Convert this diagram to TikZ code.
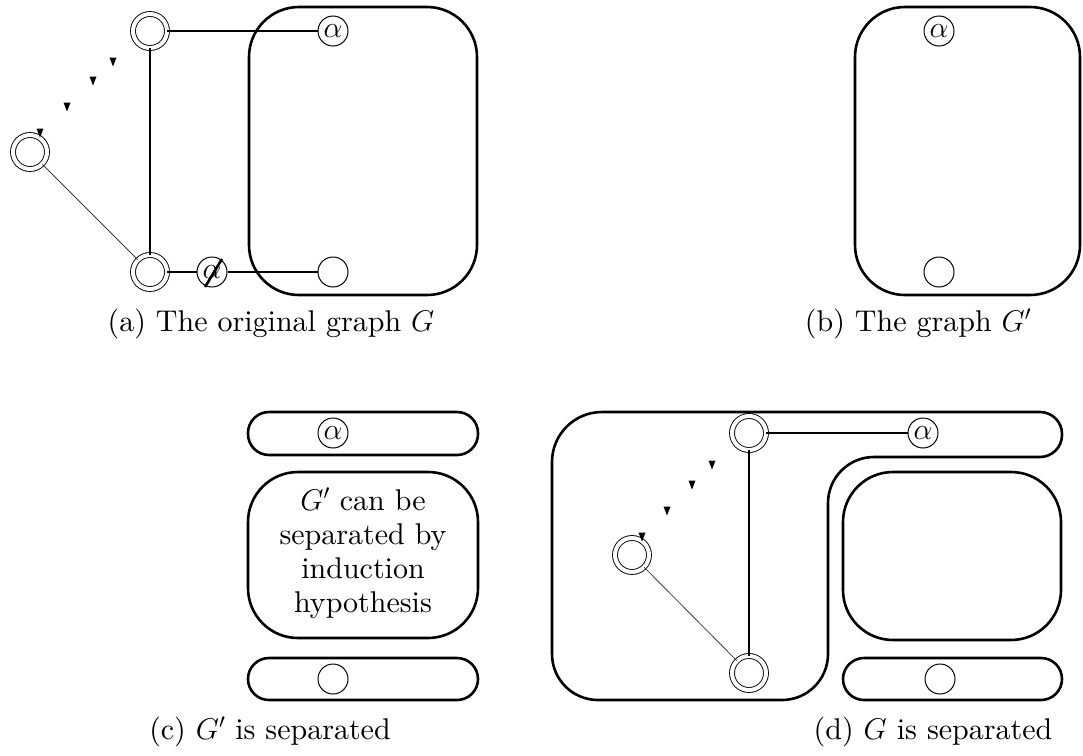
\RequirePackage{fix-cm}
\documentclass[tikz,border=0pt]{standalone}
\usepackage{fontspec}
\setmainfont{lmroman10-regular.otf}[ItalicFont=lmroman10-italic.otf]
\usepackage{tikz}
\usetikzlibrary{positioning}

\begin{document}
\begin{tikzpicture}[
    x=1pt, y=-1pt,
    region/.style={line width=2.6pt, rounded corners=50pt},
    strip/.style={line width=2.6pt, rounded corners=21pt},
    link/.style={line width=1.8pt},
    vert/.style={draw, circle, line width=1pt, minimum size=30pt, inner sep=0pt, fill=white},
    dvert/.style={draw, circle, line width=0.9pt, double, double distance=4pt, minimum size=34pt, inner sep=0pt},
    sublabel/.style={anchor=base},
    every node/.style={font=\fontsize{30}{34}\selectfont}
]
    \useasboundingbox (0,0) rectangle (1083,755);

    % (a) the original graph
    \draw[region] (249,7) rectangle (477,295);
    \node[dvert] (ta) at (150,31) {};
    \node[dvert] (la) at (30,152) {};
    \node[dvert] (ba) at (150,272) {};
    \node[vert] (aa) at (333,31) {$\alpha$};
    \node[vert] (xa) at (212,272) {$\alpha$};
    \node[vert] (ea) at (333,272) {};
    \draw[link] (ta) -- (aa);
    \draw[link] (ta) -- (ba);
    \draw[line width=2.6pt] (ba) -- (xa) -- (ea);
    \draw[line width=0.8pt, black!75] (la) -- (ba);
    \draw[line width=2.6pt] ([shift={(-7,15)}]xa.center) -- ([shift={(10,-13)}]xa.center);
    \foreach \dx/\dy in {83/-90, 63/-71, 37/-45, 10/-19}
        \fill ([shift={(\dx,\dy)}]la.center) ++(-3.5,-4.5) -- ++(7,0) -- ++(-3.5,9) -- cycle;
    \node[sublabel] (capa) at (271,331) {(a) The original graph $G$};

    % (b) the graph G'
    \draw[region] (855,7) rectangle (1080,295);
    \node[vert] (ab) at (939,31) {$\alpha$};
    \node[vert] (eb) at (939,272) {};
    \node[sublabel] (capb) at (918,331) {(b) The graph $G'$};

    % (c) G' is separated
    \draw[strip] (248,412) rectangle (478,455);
    \node[vert] (ac) at (333,433) {$\alpha$};
    \draw[region] (248,472) rectangle (478,638);
    \node[align=center] (hyp) at (363,553) {$G'$ can be\\separated by\\induction\\hypothesis};
    \draw[strip] (248,658) rectangle (478,700);
    \node[vert] (ec) at (333,679) {};
    \node[sublabel] (capc) at (270,739) {(c) $G'$ is separated};

    % (d) G is separated
    \draw[line width=2.6pt] (552,560) [rounded corners=50pt] -- (552,412) -- (700,412)
        [rounded corners=22pt] -- (1062,412) -- (1062,457) -- (900,457)
        [rounded corners=46pt] -- (828,457) -- (828,700) -- (552,700) -- cycle;
    \draw[region] (843,472) rectangle (1061,640);
    \draw[strip] (843,658) rectangle (1062,700);
    \node[dvert] (td) at (749,433) {};
    \node[dvert] (ld) at (632,555) {};
    \node[dvert] (bd) at (749,673) {};
    \node[vert] (ad) at (923,433) {$\alpha$};
    \node[vert] (ed) at (940,679) {};
    \draw[link] (td) -- (ad);
    \draw[line width=1.4pt] (td) -- (bd);
    \draw[line width=0.8pt, black!75] (ld) -- (bd);
    \foreach \dx/\dy in {80/-90, 60/-70, 35/-44, 10/-18}
        \fill ([shift={(\dx,\dy)}]ld.center) ++(-3.5,-4.5) -- ++(7,0) -- ++(-3.5,9) -- cycle;
    \node[sublabel] (capd) at (933,739) {(d) $G$ is separated};
\end{tikzpicture}
\end{document}
